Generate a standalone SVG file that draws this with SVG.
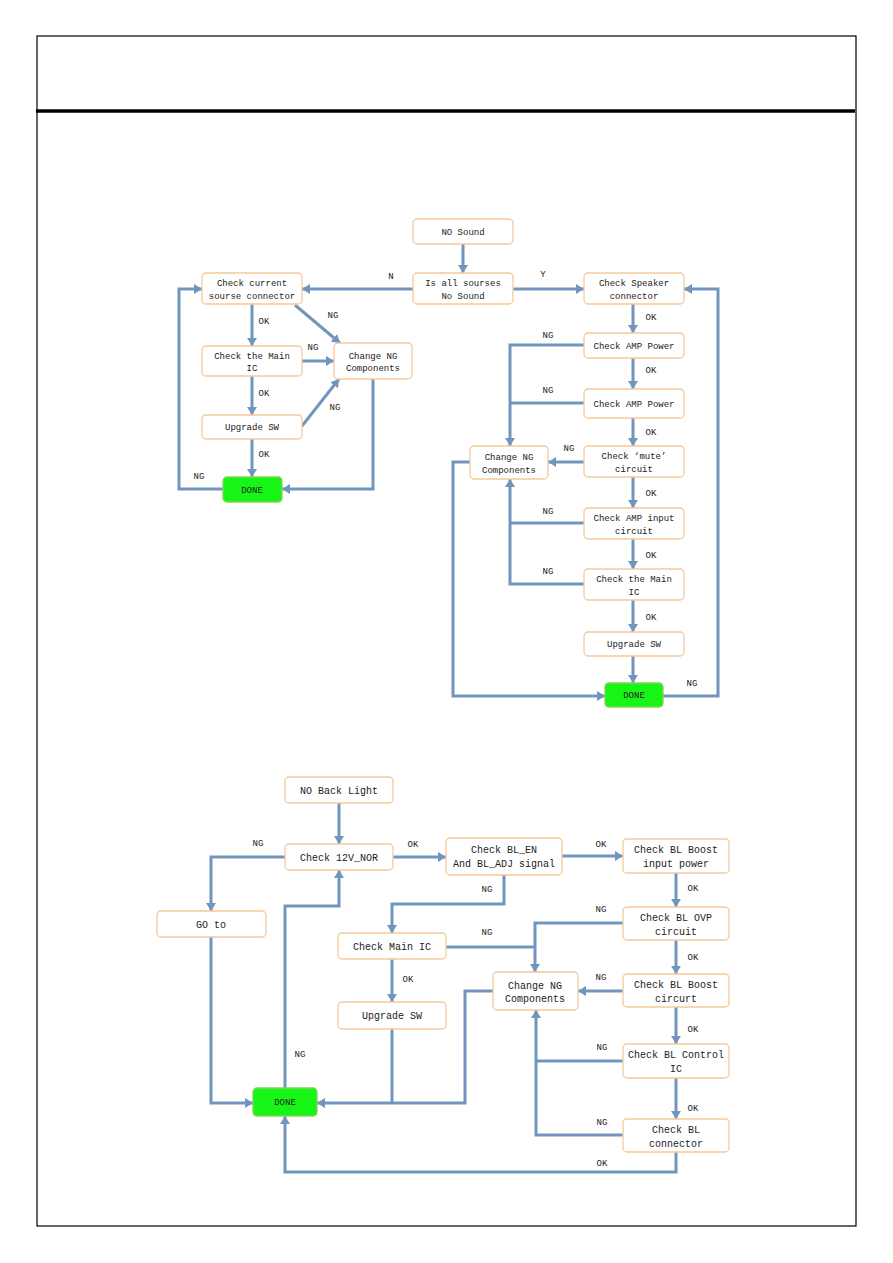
<svg xmlns="http://www.w3.org/2000/svg" width="893" height="1263" viewBox="0 0 893 1263">
<style>
.n{fill:#fff;stroke:#f6c99a;stroke-width:1.3}
.d{fill:#16f516;stroke:#86d15a;stroke-width:1.3}
.t{font-family:"Liberation Mono",monospace;font-size:9px;fill:#222;text-anchor:middle}
.b{font-size:10px}
.c{fill:none;stroke:#7195bd;stroke-width:3}
.l{font-family:"Liberation Mono",monospace;font-size:9px;fill:#222;text-anchor:middle}
</style>
<defs>
<marker id="a" markerUnits="userSpaceOnUse" markerWidth="9" markerHeight="10" refX="8" refY="5" orient="auto"><path d="M0,0 L8,5 L0,10 z" fill="#7195bd"/></marker>
</defs>
<rect x="0" y="0" width="893" height="1263" fill="#fff"/>
<g id="frame">
<rect x="37" y="36" width="819" height="1190" fill="none" stroke="#000" stroke-width="1.2"/>
<line x1="36" y1="111" x2="855" y2="111" stroke="#000" stroke-width="3.5"/>
</g>
<g id="connectors">
<path class="c" d="M463,244 V273" marker-end="url(#a)"/>
<path class="c" d="M513,289 H584" marker-end="url(#a)"/>
<path class="c" d="M413,289 H302" marker-end="url(#a)"/>
<path class="c" d="M252,304 V346" marker-end="url(#a)"/>
<path class="c" d="M252,376 V415" marker-end="url(#a)"/>
<path class="c" d="M252,439 V477" marker-end="url(#a)"/>
<path class="c" d="M295,305 L340,343" marker-end="url(#a)"/>
<path class="c" d="M302,361 H334" marker-end="url(#a)"/>
<path class="c" d="M302,426 L339,379" marker-end="url(#a)"/>
<path class="c" d="M373,379 V489 H282" marker-end="url(#a)"/>
<path class="c" d="M223,489 H179 V289 H202" marker-end="url(#a)"/>
<path class="c" d="M633,304 V333" marker-end="url(#a)"/>
<path class="c" d="M633,358 V389" marker-end="url(#a)"/>
<path class="c" d="M633,418 V446" marker-end="url(#a)"/>
<path class="c" d="M633,477 V508" marker-end="url(#a)"/>
<path class="c" d="M633,539 V569" marker-end="url(#a)"/>
<path class="c" d="M633,600 V632" marker-end="url(#a)"/>
<path class="c" d="M633,656 V683" marker-end="url(#a)"/>
<path class="c" d="M584,345 H510 V446" marker-end="url(#a)"/>
<path class="c" d="M584,403 H510"/>
<path class="c" d="M584,462 H548" marker-end="url(#a)"/>
<path class="c" d="M584,523 H510"/>
<path class="c" d="M584,584 H510 V479" marker-end="url(#a)"/>
<path class="c" d="M470,462 H453 V696 H605" marker-end="url(#a)"/>
<path class="c" d="M663,696 H718 V289 H684" marker-end="url(#a)"/>
<path class="c" d="M339,803 V844" marker-end="url(#a)"/>
<path class="c" d="M285,857 H211 V911" marker-end="url(#a)"/>
<path class="c" d="M393,857 H446" marker-end="url(#a)"/>
<path class="c" d="M562,856 H623" marker-end="url(#a)"/>
<path class="c" d="M504,875 V904 H392 V933" marker-end="url(#a)"/>
<path class="c" d="M676,873 V907" marker-end="url(#a)"/>
<path class="c" d="M623,923 H535 V972" marker-end="url(#a)"/>
<path class="c" d="M446,947 H535"/>
<path class="c" d="M392,959 V1002" marker-end="url(#a)"/>
<path class="c" d="M676,940 V974" marker-end="url(#a)"/>
<path class="c" d="M623,991 H578" marker-end="url(#a)"/>
<path class="c" d="M676,1007 V1044" marker-end="url(#a)"/>
<path class="c" d="M676,1078 V1119" marker-end="url(#a)"/>
<path class="c" d="M623,1061 H536"/>
<path class="c" d="M623,1135 H536 V1010" marker-end="url(#a)"/>
<path class="c" d="M676,1152 V1172 H285 V1116" marker-end="url(#a)"/>
<path class="c" d="M211,937 V1103 H253" marker-end="url(#a)"/>
<path class="c" d="M392,1029 V1103"/>
<path class="c" d="M493,991 H465 V1103 H317" marker-end="url(#a)"/>
<path class="c" d="M285,1088 V906 H339 V870" marker-end="url(#a)"/>
</g>
<g id="labels">
<text class="l" x="264" y="324">OK</text>
<text class="l" x="264" y="396">OK</text>
<text class="l" x="264" y="457">OK</text>
<text class="l" x="333" y="318">NG</text>
<text class="l" x="313" y="350">NG</text>
<text class="l" x="335" y="410">NG</text>
<text class="l" x="199" y="479">NG</text>
<text class="l" x="391" y="279">N</text>
<text class="l" x="543" y="277">Y</text>
<text class="l" x="651" y="320">OK</text>
<text class="l" x="651" y="373">OK</text>
<text class="l" x="651" y="435">OK</text>
<text class="l" x="651" y="496">OK</text>
<text class="l" x="651" y="558">OK</text>
<text class="l" x="651" y="620">OK</text>
<text class="l" x="548" y="338">NG</text>
<text class="l" x="548" y="393">NG</text>
<text class="l" x="569" y="451">NG</text>
<text class="l" x="548" y="514">NG</text>
<text class="l" x="548" y="574">NG</text>
<text class="l" x="692" y="686">NG</text>
<text class="l b" x="258" y="846">NG</text>
<text class="l b" x="413" y="847">OK</text>
<text class="l b" x="601" y="847">OK</text>
<text class="l b" x="487" y="892">NG</text>
<text class="l b" x="693" y="891">OK</text>
<text class="l b" x="601" y="912">NG</text>
<text class="l b" x="487" y="935">NG</text>
<text class="l b" x="408" y="982">OK</text>
<text class="l b" x="693" y="960">OK</text>
<text class="l b" x="601" y="980">NG</text>
<text class="l b" x="693" y="1032">OK</text>
<text class="l b" x="602" y="1050">NG</text>
<text class="l b" x="693" y="1111">OK</text>
<text class="l b" x="602" y="1125">NG</text>
<text class="l b" x="602" y="1166">OK</text>
<text class="l b" x="300" y="1057">NG</text>
</g>
<g id="n_nosound"><rect class="n" x="413" y="219" width="100" height="25" rx="4"/><text class="t" x="463" y="235">NO Sound</text></g>
<g id="n_isall"><rect class="n" x="413" y="273" width="100" height="31" rx="4"/><text class="t" x="463" y="286">Is all sourses</text><text class="t" x="463" y="299">No Sound</text></g>
<g id="n_curr"><rect class="n" x="202" y="273" width="100" height="31" rx="4"/><text class="t" x="252" y="286">Check current</text><text class="t" x="252" y="299">sourse connector</text></g>
<g id="n_mainic1"><rect class="n" x="202" y="346" width="100" height="30" rx="4"/><text class="t" x="252" y="359">Check the Main</text><text class="t" x="252" y="371">IC</text></g>
<g id="n_upg1"><rect class="n" x="202" y="415" width="100" height="24" rx="4"/><text class="t" x="252" y="430">Upgrade SW</text></g>
<g id="n_chg1"><rect class="n" x="334" y="343" width="78" height="36" rx="4"/><text class="t" x="373" y="359">Change NG</text><text class="t" x="373" y="371">Components</text></g>
<g id="n_done1"><rect class="d" x="223" y="477" width="59" height="25" rx="4"/><text class="t" x="252" y="493">DONE</text></g>
<g id="n_spk"><rect class="n" x="584" y="273" width="100" height="31" rx="4"/><text class="t" x="634" y="286">Check  Speaker</text><text class="t" x="634" y="299">connector</text></g>
<g id="n_amp1"><rect class="n" x="584" y="333" width="100" height="25" rx="4"/><text class="t" x="634" y="349">Check AMP Power</text></g>
<g id="n_amp2"><rect class="n" x="584" y="389" width="100" height="29" rx="4"/><text class="t" x="634" y="407">Check AMP Power</text></g>
<g id="n_mute"><rect class="n" x="584" y="446" width="100" height="31" rx="4"/><text class="t" x="634" y="459">Check ‘mute’</text><text class="t" x="634" y="472">circuit</text></g>
<g id="n_chg2"><rect class="n" x="470" y="446" width="78" height="33" rx="4"/><text class="t" x="509" y="460">Change NG</text><text class="t" x="509" y="473">Components</text></g>
<g id="n_ampin"><rect class="n" x="584" y="508" width="100" height="31" rx="4"/><text class="t" x="634" y="521">Check AMP input</text><text class="t" x="634" y="534">circuit</text></g>
<g id="n_mainic2"><rect class="n" x="584" y="569" width="100" height="31" rx="4"/><text class="t" x="634" y="582">Check the Main</text><text class="t" x="634" y="595">IC</text></g>
<g id="n_upg2"><rect class="n" x="584" y="632" width="100" height="24" rx="4"/><text class="t" x="634" y="647">Upgrade SW</text></g>
<g id="n_done2"><rect class="d" x="605" y="683" width="58" height="24" rx="4"/><text class="t" x="634" y="698">DONE</text></g>
<g id="n_nobl"><rect class="n" x="285" y="777" width="108" height="26" rx="4"/><text class="t b" x="339" y="794">NO Back Light</text></g>
<g id="n_12v"><rect class="n" x="285" y="844" width="108" height="26" rx="4"/><text class="t b" x="339" y="861">Check 12V_NOR</text></g>
<g id="n_goto"><rect class="n" x="157" y="911" width="109" height="26" rx="4"/><text class="t b" x="211" y="928">GO to</text></g>
<g id="n_blen"><rect class="n" x="446" y="838" width="116" height="37" rx="4"/><text class="t b" x="504" y="853">Check  BL_EN</text><text class="t b" x="504" y="867">And BL_ADJ signal</text></g>
<g id="n_boostin"><rect class="n" x="623" y="839" width="106" height="34" rx="4"/><text class="t b" x="676" y="853">Check BL Boost</text><text class="t b" x="676" y="867">input power</text></g>
<g id="n_mainic3"><rect class="n" x="338" y="933" width="108" height="26" rx="4"/><text class="t b" x="392" y="950">Check Main IC</text></g>
<g id="n_ovp"><rect class="n" x="623" y="907" width="106" height="33" rx="4"/><text class="t b" x="676" y="921">Check BL OVP</text><text class="t b" x="676" y="935">circuit</text></g>
<g id="n_chg3"><rect class="n" x="493" y="972" width="85" height="38" rx="4"/><text class="t b" x="535" y="989">Change NG</text><text class="t b" x="535" y="1002">Components</text></g>
<g id="n_boost"><rect class="n" x="623" y="974" width="106" height="33" rx="4"/><text class="t b" x="676" y="988">Check BL  Boost</text><text class="t b" x="676" y="1002">circurt</text></g>
<g id="n_upg3"><rect class="n" x="338" y="1002" width="108" height="27" rx="4"/><text class="t b" x="392" y="1019">Upgrade SW</text></g>
<g id="n_ctrl"><rect class="n" x="623" y="1044" width="106" height="34" rx="4"/><text class="t b" x="676" y="1058">Check BL Control</text><text class="t b" x="676" y="1072">IC</text></g>
<g id="n_conn"><rect class="n" x="623" y="1119" width="106" height="33" rx="4"/><text class="t b" x="676" y="1133">Check BL</text><text class="t b" x="676" y="1147">connector</text></g>
<g id="n_done3"><rect class="d" x="253" y="1088" width="64" height="28" rx="4"/><text class="t" x="285" y="1105">DONE</text></g>
</svg>
